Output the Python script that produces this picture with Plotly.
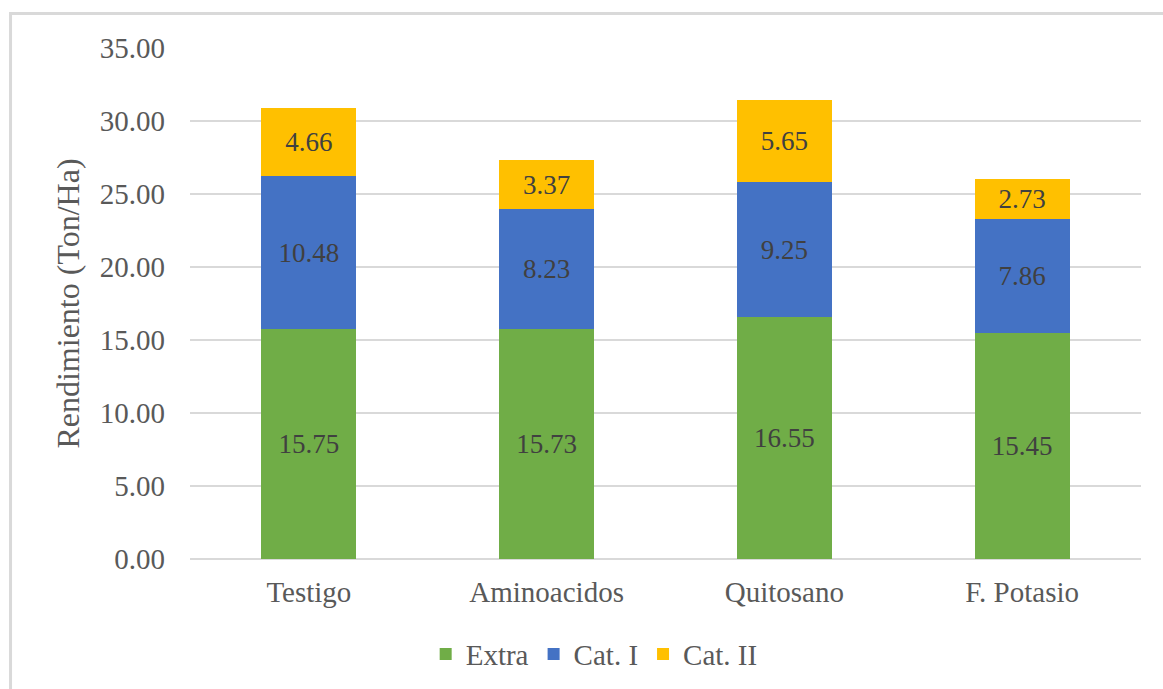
import plotly.graph_objects as go

categories = ["Testigo", "Aminoacidos", "Quitosano", "F. Potasio"]
extra = [15.75, 15.73, 16.55, 15.45]
cat_i = [10.48, 8.23, 9.25, 7.86]
cat_ii = [4.66, 3.37, 5.65, 2.73]
y_ticks = [0, 5, 10, 15, 20, 25, 30, 35]

FONT = "Liberation Serif"
series = [("Extra", extra, "#70AD47"), ("Cat. I", cat_i, "#4472C4"), ("Cat. II", cat_ii, "#FFC000")]

fig = go.Figure()
for name, vals, col in series:
    fig.add_trace(go.Bar(
        name=name, x=categories, y=vals, marker=dict(color=col, line=dict(width=0)),
        texttemplate="%{y:.2f}", textposition="inside", insidetextanchor="middle",
        textfont=dict(family=FONT, size=27, color="#404040"), constraintext="none",
        hoverinfo="skip",
    ))

fig.update_layout(
    barmode="stack", bargap=0.6,
    width=1163, height=689,
    margin=dict(l=190, r=22, t=48, b=130, autoexpand=False),
    paper_bgcolor="white", plot_bgcolor="white",
    font=dict(family=FONT, color="#595959"),
    showlegend=True,
    legend=dict(orientation="h", x=0.425, xanchor="center", y=-0.186, yanchor="middle",
                font=dict(family=FONT, size=29, color="#595959"), traceorder="normal",
                itemwidth=30),
    xaxis=dict(showgrid=False, showline=False, zeroline=False, ticks="",
               tickfont=dict(family=FONT, size=29, color="#595959"), ticklabelstandoff=13),
    yaxis=dict(range=[0, 35], tickvals=y_ticks, tickformat=".2f", showgrid=True,
               gridcolor="#D9D9D9", gridwidth=2, zeroline=True, zerolinecolor="#D9D9D9",
               zerolinewidth=2, showline=False, ticks="",
               tickfont=dict(family=FONT, size=29, color="#595959"), ticklabelstandoff=24,
               title=dict(text="Rendimiento (Ton/Ha)", standoff=10,
                          font=dict(family=FONT, size=32, color="#595959"))),
    shapes=[dict(type="rect", xref="paper", yref="paper", x0=-0.1887, y0=-0.35, x1=1.1, y1=1.0676,
                 line=dict(color="#D9D9D9", width=3), fillcolor="rgba(0,0,0,0)", layer="below")],
)

fig.write_html("out.html")
